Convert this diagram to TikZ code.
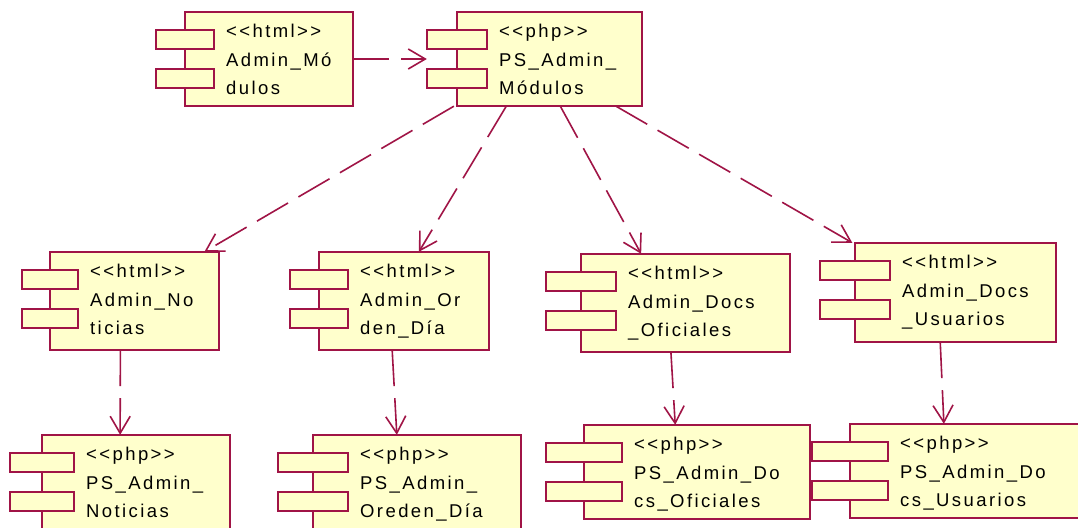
\documentclass[tikz,border=0pt]{standalone}
\usepackage{fontspec}
\newfontfamily\rosefont{Liberation Sans}[LetterSpace=13]
\usetikzlibrary{arrows.meta,fit}
\definecolor{rosered}{RGB}{160,20,70}
\definecolor{roseyellow}{RGB}{255,255,204}

\begin{document}
\begin{tikzpicture}[x=1pt, y=-1pt, >={Straight Barb[length=17pt,width=20pt]},
    body/.style={fill=roseyellow, draw=rosered, line width=1.9pt},
    tab/.style={body},
    txt/.style={anchor=north west, inner sep=0pt, align=left, font=\rosefont\fontsize{18.5}{28.5}\selectfont},
    dep/.style={->, draw=rosered, line width=1.6pt, dash pattern=on 36pt off 12pt}]
    % name, tab left, body left, top, right, bottom, text
    \def\comp#1#2#3#4#5#6#7{%
      \node[inner sep=0pt, fit={(#2,#4) (#5,#6)}] (#1) {};
      \filldraw[body] (#3,#4) rectangle (#5,#6);
      \filldraw[tab] (#2,#4+18) rectangle (2*#3-#2,#4+37);
      \filldraw[tab] (#2,#4+57) rectangle (2*#3-#2,#4+76);
      \node[txt] (#1-txt) at (2*#3-#2+12,#4+12) {#7};
    }
    \fill[white] (0,0) rectangle (1078,527);
    \useasboundingbox (0,0) rectangle (1078,527);
    \clip (0,0) rectangle (1078,527);

    \comp{admMod}{156}{185}{12}{353}{106}{<<html>>\\Admin\_Mó\\dulos}
    \comp{psMod}{427}{457}{12}{642}{106}{<<php>>\\PS\_Admin\_\\Módulos}

    \comp{admNot}{22}{50}{252}{219}{350}{<<html>>\\Admin\_No\\ticias}
    \comp{admOrd}{290}{319}{252}{489}{350}{<<html>>\\Admin\_Or\\den\_Día}
    \comp{admOfi}{546}{581}{254}{790}{352}{<<html>>\\Admin\_Docs\\\_Oficiales}
    \comp{admUsu}{820}{855}{243}{1056}{342}{<<html>>\\Admin\_Docs\\\_Usuarios}

    \comp{psNot}{10}{42}{435}{230}{533}{<<php>>\\PS\_Admin\_\\Noticias}
    \comp{psOrd}{278}{313}{435}{521}{533}{<<php>>\\PS\_Admin\_\\Oreden\_Día}
    \comp{psOfi}{546}{584}{425}{810}{519}{<<php>>\\PS\_Admin\_Do\\cs\_Oficiales}
    \comp{psUsu}{812}{850}{424}{1080}{518}{<<php>>\\PS\_Admin\_Do\\cs\_Usuarios}

    \draw[dep] (admMod.east) -- (psMod.west |- admMod.east);
    \draw[dep] (psMod) -- (admNot);
    \draw[dep] (psMod) -- (admOrd);
    \draw[dep] (psMod) -- (admOfi);
    \draw[dep] (psMod) -- (admUsu);
    \draw[dep] (admNot) -- (psNot);
    \draw[dep] (admOrd) -- (psOrd);
    \draw[dep] (admOfi) -- (psOfi);
    \draw[dep] (admUsu) -- (psUsu);
  \end{tikzpicture}
\end{document}
